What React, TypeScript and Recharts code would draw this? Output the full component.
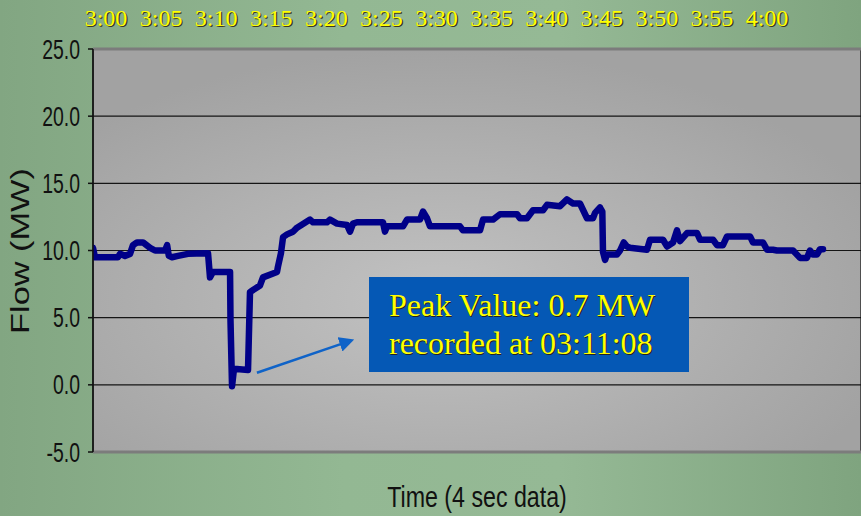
import { LineChart, Line, XAxis, YAxis, CartesianGrid, ReferenceLine } from "recharts";

// minutes after 3:00 (4 sec data, thinned) and flow in MW
const TIME_MIN = [
  -1.18, -1.0, 1.09, 1.27, 1.72, 2.18, 2.45, 2.81, 3.36, 4.0, 4.45, 5.36, 5.55, 5.7, 5.99, 6.54, 7.44,
  8.99, 9.26, 9.44, 9.71, 11.26, 11.3, 11.44, 11.62, 12.89, 13.07, 13.25, 13.98, 14.25, 15.52, 15.61,
  15.88, 16.07, 16.43, 16.97, 17.34, 18.52, 18.79, 20.06, 20.33, 20.97, 21.88, 22.15, 22.42, 22.78,
  25.14, 25.32, 25.51, 26.96, 27.32, 28.5, 28.77, 29.14, 29.41, 32.13, 32.4, 33.95, 34.22, 35.13,
  35.76, 37.31, 37.58, 38.21, 38.76, 39.67, 40.03, 41.21, 41.84, 42.39, 43.02, 43.66, 44.2, 44.39,
  44.84, 45.05, 45.11, 45.3, 45.47, 46.38, 46.66, 47.0, 47.29, 47.56, 49.1, 49.38, 50.56, 50.92,
  51.47, 51.83, 52.1, 52.74, 53.65, 53.92, 55.1, 55.46, 56.0, 56.37, 58.46, 58.73, 59.64, 60.0,
  60.54, 60.9, 62.36, 62.99, 63.63, 63.9, 64.17, 64.54, 64.81, 65.08,
];
const FLOW_MW = [
  10.2, 9.5, 9.5, 9.75, 9.6, 9.75, 10.4, 10.6, 10.6, 10.2, 10.0, 10.0, 10.4, 9.6, 9.5, 9.6, 9.75,
  9.8, 9.8, 8.0, 8.4, 8.4, 4.8, -0.1, 1.2, 1.1, 6.9, 7.0, 7.4, 8.0, 8.4, 8.8,
  9.8, 11.0, 11.2, 11.4, 11.7, 12.3, 12.1, 12.1, 12.3, 12.0, 11.9, 11.4, 12.0, 12.1,
  12.1, 11.4, 11.8, 11.8, 12.3, 12.3, 12.9, 12.4, 11.8, 11.8, 11.5, 11.5, 12.3, 12.3,
  12.7, 12.7, 12.4, 12.4, 13.0, 13.0, 13.4, 13.3, 13.8, 13.5, 13.5, 12.4, 12.4, 12.8,
  13.2, 12.9, 9.9, 9.3, 9.7, 9.7, 10.0, 10.6, 10.3, 10.2, 10.05, 10.8, 10.8, 10.3,
  10.6, 11.5, 10.7, 11.3, 11.3, 10.8, 10.8, 10.4, 10.4, 11.05, 11.05, 10.6, 10.6, 10.05,
  10.05, 10.0, 10.0, 9.45, 9.45, 10.0, 9.7, 9.7, 10.1, 10.1,
];

const TOP_TICKS = [0, 5, 10, 15, 20, 25, 30, 35, 40, 45, 50, 55, 60];
const TOP_LABELS = ["3:00", "3:05", "3:10", "3:15", "3:20", "3:25", "3:30", "3:35", "3:40", "3:45", "3:50", "3:55", "4:00"];
const Y_TICKS = [-5, 0, 5, 10, 15, 20, 25];

const X_MIN = -1.18;
const X_MAX = 68.53;
const GRID_COLS = 9;
const gridTicks = Array.from({ length: GRID_COLS + 1 }, (_, i) => X_MIN + ((X_MAX - X_MIN) * i) / GRID_COLS);

const data = TIME_MIN.map((t, i) => ({ t, flow: FLOW_MW[i] }));

const SANS = "'Liberation Sans', Arial, sans-serif";
const SERIF = "'Liberation Serif', 'Times New Roman', serif";

const TopTick = ({ x, payload }: any) => {
  const label = TOP_LABELS[TOP_TICKS.indexOf(payload.value)];
  return (
    <g>
      <text x={x + 1.2} y={27.2} textAnchor="middle" fontFamily={SERIF} fontSize={24} fill="#3a3a20">
        {label}
      </text>
      <text x={x} y={26} textAnchor="middle" fontFamily={SERIF} fontSize={24} fill="#ffff00">
        {label}
      </text>
    </g>
  );
};

const YTick = ({ x, y, payload }: any) => (
  <text transform={`translate(${x},${y + 9.5}) scale(0.72,1)`} textAnchor="end" fontFamily={SANS} fontSize={27} fill="#111">
    {payload.value.toFixed(1)}
  </text>
);

const FlowLabel = () => (
  <text
    transform="translate(29,251) rotate(-90) scale(1.32,1)"
    textAnchor="middle"
    fontFamily={SANS}
    fontSize={26}
    fill="#111"
  >
    Flow (MW)
  </text>
);

const TimeLabel = () => (
  <text transform="translate(477,507) scale(0.8,1)" textAnchor="middle" fontFamily={SANS} fontSize={29} fill="#111">
    Time (4 sec data)
  </text>
);

const Arrow = (props: any) => {
  const { x1, y1, x2, y2 } = props;
  return (
    <g>
      <defs>
        <marker id="arrowHead" markerWidth="6" markerHeight="6" refX="4" refY="3" orient="auto">
          <path d="M0,0 L6,3 L0,6 Z" fill="#0f63c8" />
        </marker>
      </defs>
      <line x1={x1} y1={y1} x2={x2} y2={y2} stroke="#0f63c8" strokeWidth={2.5} markerEnd="url(#arrowHead)" />
    </g>
  );
};

export default function App() {
  return (
    <div
      style={{
        position: "absolute",
        left: 0,
        top: 0,
        width: 861,
        height: 516,
        background: "linear-gradient(90deg, #82a682 0%, #93b893 40%, #95b995 65%, #7fa47f 100%)",
        overflow: "hidden",
      }}
    >
      <LineChart width={861} height={516} data={data} margin={{ top: 0, right: 0, bottom: 0, left: 0 }}>
        <defs>
          <radialGradient id="plotBg" cx="45%" cy="62%" r="62%">
            <stop offset="0%" stopColor="#c2c2c2" />
            <stop offset="100%" stopColor="#a2a2a2" />
          </radialGradient>
        </defs>
        <CartesianGrid xAxisId="main" stroke="#151515" strokeWidth={1.2} fill="url(#plotBg)" fillOpacity={1} />
        <XAxis
          xAxisId="top"
          orientation="top"
          type="number"
          dataKey="t"
          domain={[X_MIN, X_MAX]}
          allowDataOverflow
          ticks={TOP_TICKS}
          interval={0}
          height={49}
          axisLine={false}
          tickLine={false}
          tick={<TopTick />}
        />
        <XAxis
          xAxisId="main"
          type="number"
          dataKey="t"
          domain={[X_MIN, X_MAX]}
          allowDataOverflow
          ticks={gridTicks}
          interval={0}
          height={64}
          axisLine={false}
          tickLine={false}
          tick={false}
          label={<TimeLabel />}
        />
        <YAxis
          type="number"
          domain={[-5, 25]}
          allowDataOverflow
          ticks={Y_TICKS}
          interval={0}
          width={93}
          axisLine={{ stroke: "#111", strokeWidth: 1.5 }}
          tickLine={{ stroke: "#111", strokeWidth: 1.5 }}
          tickSize={5}
          tickMargin={8}
          tick={<YTick />}
          label={<FlowLabel />}
        />
        <ReferenceLine xAxisId="main" y={25} stroke="#7c7c7c" strokeWidth={3} />
        <ReferenceLine xAxisId="main" y={-5} stroke="#7c7c7c" strokeWidth={3} />
        <ReferenceLine
          xAxisId="main"
          segment={[
            { x: 13.7, y: 0.9 },
            { x: 22.1, y: 3.25 },
          ]}
          shape={<Arrow />}
        />
        <Line
          xAxisId="main"
          type="linear"
          dataKey="flow"
          stroke="#000088"
          strokeWidth={6.5}
          strokeLinejoin="round"
          strokeLinecap="round"
          dot={false}
          isAnimationActive={false}
        />
      </LineChart>
      <div
        style={{
          position: "absolute",
          left: 369,
          top: 277,
          width: 320,
          height: 95,
          background: "#0558b5",
          boxSizing: "border-box",
          paddingLeft: 20,
          paddingTop: 9,
          fontFamily: SERIF,
          fontSize: 32,
          lineHeight: "38px",
          color: "#ffff00",
          textShadow: "1px 1px 0 #222",
          whiteSpace: "nowrap",
        }}
      >
        <div>Peak Value: 0.7 MW</div>
        <div>recorded at 03:11:08</div>
      </div>
    </div>
  );
}
